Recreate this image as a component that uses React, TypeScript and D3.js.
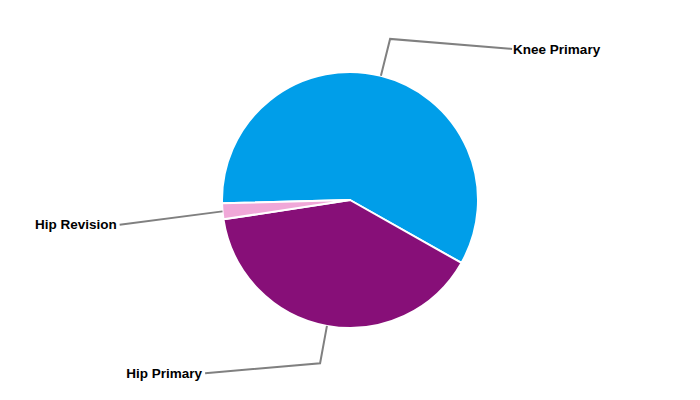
import React from "react";
import * as d3 from "d3";

const categories = ["Knee Primary", "Hip Primary", "Hip Revision"];
const values = [58.6, 39.4, 2.0];
const colors = ["#009ee9", "#870f78", "#f0a8d8"];

const W = 700;
const H = 400;
const CX = 350;
const CY = 200;
const R = 128;
const ELBOW_R = 166;
const START = (-91.5 * Math.PI) / 180;

// label end offsets relative to elbow point (layout)
const labelDx: Record<string, number> = {
  "Knee Primary": 122,
  "Hip Primary": -115,
  "Hip Revision": -65,
};

export default function App() {
  const data = categories.map((c, i) => ({ c, v: values[i], color: colors[i] }));
  const pie = d3
    .pie<any>()
    .value((d) => d.v)
    .sort(null)
    .startAngle(START)
    .endAngle(START + 2 * Math.PI);
  const arcs = pie(data);
  const arc = d3.arc<any>().innerRadius(0).outerRadius(R);
  const edgeArc = d3.arc<any>().innerRadius(R).outerRadius(R);
  const elbowArc = d3.arc<any>().innerRadius(ELBOW_R).outerRadius(ELBOW_R);

  return (
    <svg
      width={W}
      height={H}
      style={{ position: "absolute", left: 0, top: 0 }}
      fontFamily="'Liberation Sans', Arial, sans-serif"
    >
      <rect width={W} height={H} fill="#fff" />
      <g transform={`translate(${CX},${CY})`}>
        {arcs.map((a, i) => (
          <path key={i} d={arc(a) as string} fill={a.data.color} stroke="#fff" strokeWidth={2} strokeLinejoin="round" />
        ))}
        {arcs.map((a, i) => {
          const [ex, ey] = edgeArc.centroid(a);
          const [bx, by] = elbowArc.centroid(a);
          const dx = labelDx[a.data.c];
          const lx = bx + dx;
          const ly = by + 10;
          const right = dx > 0;
          const small = a.endAngle - a.startAngle < 0.2;
          const pts = small ? `${ex},${ey} ${lx},${ly}` : `${ex},${ey} ${bx},${by} ${lx},${ly}`;
          return (
            <g key={"l" + i}>
              <polyline points={pts} fill="none" stroke="#808080" strokeWidth={2} />
              <text
                x={right ? lx + 1 : lx - 3}
                y={ly}
                dy="0.35em"
                textAnchor={right ? "start" : "end"}
                fontSize={13.5}
                fontWeight="bold"
                fill="#000"
              >
                {a.data.c}
              </text>
            </g>
          );
        })}
      </g>
    </svg>
  );
}
